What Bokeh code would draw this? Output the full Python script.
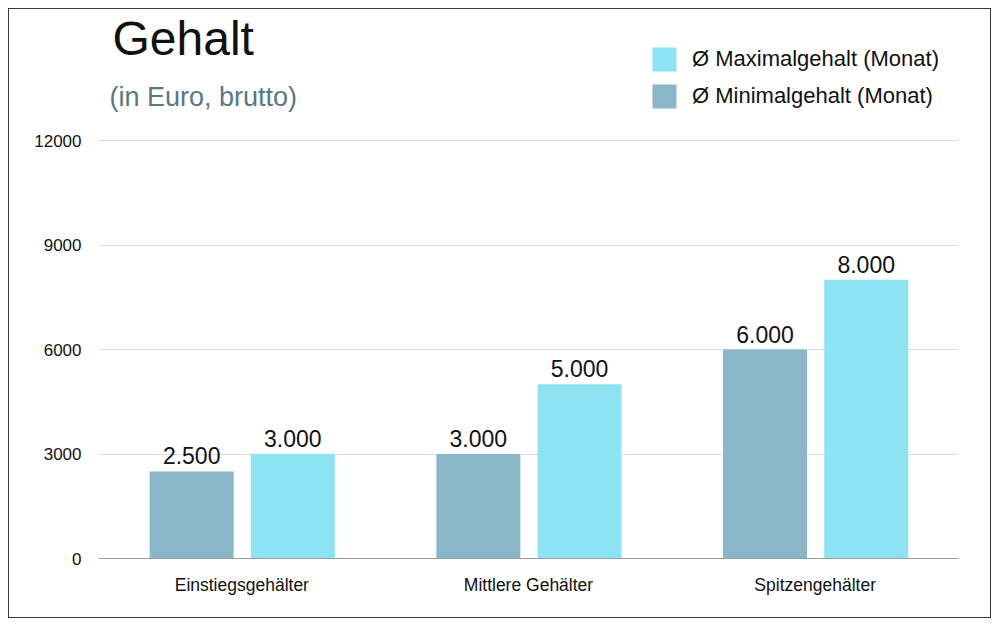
from bokeh.plotting import figure
from bokeh.models import (ColumnDataSource, FactorRange, FixedTicker, LabelSet, Label,
                          Legend, LegendItem, Range1d)
from bokeh.transform import dodge
from bokeh.core.properties import value
from bokeh.embed import file_html
from bokeh.resources import INLINE

categories = ["Einstiegsgehälter", "Mittlere Gehälter", "Spitzengehälter"]
min_salary = [2500, 3000, 6000]
max_salary = [3000, 5000, 8000]
y_ticks = [0, 3000, 6000, 9000, 12000]
series_names = ["Ø Maximalgehalt (Monat)", "Ø Minimalgehalt (Monat)"]
title_text = "Gehalt"
subtitle_text = "(in Euro, brutto)"

def fmt(v):
    return f"{v:,}".replace(",", ".")

src = ColumnDataSource(dict(
    cat=categories,
    mn=min_salary,
    mx=max_salary,
    mn_lbl=[fmt(v) for v in min_salary],
    mx_lbl=[fmt(v) for v in max_salary],
))

FONT = "Liberation Sans"
MIN_COL = "#89b6c9"
MAX_COL = "#8de3f1"

# layout (pixels)
W, H = 983, 610
BORDER_L, BORDER_R, BORDER_B = 89, 34, 61
FRAME_H = H - BORDER_B           # frame spans from canvas top to axis
PLOT_H = 418                     # pixel height of the 0..12000 band
y_end = max(y_ticks) * FRAME_H / PLOT_H

p = figure(x_range=FactorRange(*categories), y_range=Range1d(0, y_end),
           width=W, height=H, output_backend="svg", toolbar_location=None,
           title_location=None,
           min_border_left=BORDER_L, min_border_right=BORDER_R, min_border_top=0,
           min_border_bottom=BORDER_B)
p.margin = (8, 0, 0, 8)
p.styles = {"border": "1px solid #3a3a3a"}
p.outline_line_color = None
p.background_fill_color = "white"
p.border_fill_color = "white"

r_min = p.vbar(x=dodge("cat", -0.175, range=p.x_range), top="mn", width=0.293,
               source=src, fill_color=MIN_COL, line_color=None)
r_max = p.vbar(x=dodge("cat", 0.178, range=p.x_range), top="mx", width=0.293,
               source=src, fill_color=MAX_COL, line_color=None)

for col, lbl, off in (("mn", "mn_lbl", -0.175), ("mx", "mx_lbl", 0.178)):
    ls = LabelSet(x=dodge("cat", off, range=p.x_range), y=col, text=lbl, source=src,
                  text_align="center", text_baseline="alphabetic", y_offset=7,
                  text_font=value(FONT), text_font_size="23px", text_color="#111111")
    p.add_layout(ls)

# axes
p.yaxis.ticker = FixedTicker(ticks=y_ticks)
p.yaxis.axis_line_color = None
p.yaxis.major_tick_line_color = None
p.yaxis.minor_tick_line_color = None
p.yaxis.major_label_standoff = 11
p.yaxis.major_label_text_font = FONT
p.yaxis.major_label_text_font_size = "17px"
p.yaxis.major_label_text_color = "#111111"

p.xaxis.axis_line_color = "#9a9a9a"
p.xaxis.axis_line_width = 1
p.xaxis.major_tick_line_color = None
p.xaxis.minor_tick_line_color = None
p.xaxis.major_label_standoff = 10
p.xaxis.major_label_text_font = FONT
p.xaxis.major_label_text_font_size = "17.5px"
p.xaxis.major_label_text_color = "#111111"

p.xgrid.grid_line_color = None
p.ygrid.ticker = FixedTicker(ticks=y_ticks)
p.ygrid.grid_line_color = "#dcdcdc"

# titles
p.add_layout(Label(x=14, y=520, x_units="screen", y_units="screen", text=title_text,
                   text_font=FONT, text_font_size="48px", text_color="#111111",
                   text_baseline="alphabetic"))
p.add_layout(Label(x=11, y=462, x_units="screen", y_units="screen", text=subtitle_text,
                   text_font=FONT, text_font_size="27px", text_color="#587885",
                   text_baseline="alphabetic"))

legend = Legend(items=[LegendItem(label=series_names[0], renderers=[r_max]),
                       LegendItem(label=series_names[1], renderers=[r_min])],
                location=(551, 447), orientation="vertical",
                glyph_width=30, glyph_height=30, spacing=7, padding=0, margin=0,
                label_standoff=13, label_text_font=FONT, label_text_font_size="22px",
                label_text_color="#111111", border_line_color=None,
                background_fill_alpha=0)
p.add_layout(legend, "center")

open("out.html", "w").write(file_html(p, INLINE))
